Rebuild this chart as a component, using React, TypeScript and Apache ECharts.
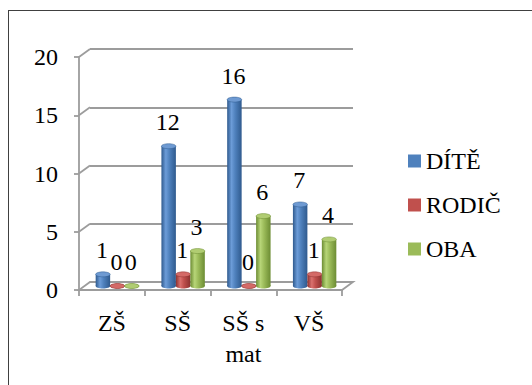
import React, { useEffect, useRef } from "react";
import * as echarts from "echarts";

const categories = ["ZŠ", "SŠ", "SŠ s mat", "VŠ"];
const seriesNames = ["DÍTĚ", "RODIČ", "OBA"];
const diteValues = [1, 12, 16, 7];
const rodicValues = [0, 1, 0, 1];
const obaValues = [0, 3, 6, 4];
const yTickValues = [0, 5, 10, 15, 20];

const GRID_COLOR = "#9c9c9c";
const DX = 11;
const DY = -8;
const G_LEFT = 79;
const G_TOP = 57;
const G_W = 263;
const G_H = 233;

const palettes = [
  { base: "#4F81BD", light: "#6C9CD8", dark: "#2F5A8E", cap: "#6E9AD2" },
  { base: "#C0504D", light: "#DA716E", dark: "#8C3230", cap: "#D46A67" },
  { base: "#9BBB59", light: "#B7D578", dark: "#6C8C33", cap: "#B0CC72" },
];

const CSS = `.chart-root svg text { font-family: "Liberation Serif", serif !important; }`;

export default function App() {
  const ref = useRef<HTMLDivElement>(null);

  useEffect(() => {
    if (!ref.current) return;
    const chart = echarts.init(ref.current, null, { renderer: "svg" });
    const valueSets = [diteValues, rodicValues, obaValues];

    const makeBarSeries = (s: number) => {
      const pal = palettes[s];
      return {
        name: seriesNames[s],
        type: "custom",
        xAxisIndex: 2,
        yAxisIndex: 2,
        z: 5,
        itemStyle: { color: pal.base },
        data: valueSets[s].map((v, i) => [i, v]),
        encode: { x: 0, y: 1 },
        renderItem: (params: any, api: any) => {
          const ci = api.value(0);
          const val = api.value(1);
          const band = api.size([1, 0])[0];
          const barW = band * 0.22;
          const groupW = barW * 3;
          const cx0 = api.coord([ci, 0])[0];
          const left = cx0 - groupW / 2 + s * barW;
          const cx = left + barW / 2;
          const yBase = api.coord([ci, 0])[1];
          const yTop = api.coord([ci, val])[1];
          const ry = 2.5;
          const grad = new echarts.graphic.LinearGradient(0, 0, 1, 0, [
            { offset: 0, color: pal.dark },
            { offset: 0.3, color: pal.light },
            { offset: 0.55, color: pal.base },
            { offset: 1, color: pal.dark },
          ]);
          return {
            type: "group",
            children: [
              {
                type: "ellipse",
                shape: { cx, cy: yBase, rx: barW / 2, ry },
                style: { fill: grad },
              },
              {
                type: "rect",
                shape: { x: left, y: yTop, width: barW, height: Math.max(0, yBase - yTop) },
                style: { fill: grad },
              },
              {
                type: "ellipse",
                shape: { cx, cy: yTop, rx: barW / 2, ry },
                style: { fill: pal.cap, stroke: pal.dark, lineWidth: 0.5 },
              },
            ],
          };
        },
      };
    };

    const makeLabelSeries = (s: number) => ({
      name: seriesNames[s],
      type: "bar",
      xAxisIndex: 2,
      yAxisIndex: 2,
      z: 6,
      barGap: "0%",
      barCategoryGap: "34%",
      silent: true,
      legendHoverLink: false,
      itemStyle: { color: "rgba(0,0,0,0)" },
      data: valueSets[s],
      label: {
        show: true,
        position: "top",
        distance: 12,
        offset: [-1, 0],
        fontSize: 24,
        fontFamily: "Liberation Serif",
        color: "#000",
      },
    });

    const frameSeries = {
      type: "custom",
      xAxisIndex: 0,
      yAxisIndex: 0,
      z: 2,
      silent: true,
      data: yTickValues.map((v) => [0, v]),
      encode: { x: 0, y: 1 },
      renderItem: (params: any, api: any) => {
        const v = api.value(1);
        const band = api.size([1, 0])[0];
        const xL = api.coord([0, v])[0] - band / 2;
        const xR = api.coord([categories.length - 1, v])[0] + band / 2;
        const y = api.coord([0, v])[1];
        if (v === 0) {
          return {
            type: "polygon",
            shape: {
              points: [
                [xL, y],
                [xR, y],
                [xR + DX, y + DY],
                [xL + DX, y + DY],
              ],
            },
            style: { fill: "#ffffff", stroke: GRID_COLOR, lineWidth: 1.8 },
          };
        }
        return {
          type: "line",
          shape: { x1: xL, y1: y, x2: xL + DX, y2: y + DY },
          style: { stroke: GRID_COLOR, lineWidth: 1.8 },
        };
      },
    };

    const gridDef = (l: number, t: number) => ({ left: l, top: t, width: G_W, height: G_H });

    const hiddenCat = (gi: number) => ({
      type: "category",
      gridIndex: gi,
      data: categories,
      show: false,
    });

    const option: any = {
      animation: false,
      textStyle: { fontFamily: "Liberation Serif" },
      grid: [
        gridDef(G_LEFT, G_TOP),
        gridDef(G_LEFT + DX, G_TOP + DY),
        gridDef(G_LEFT + DX / 2, G_TOP + DY / 2),
      ],
      legend: {
        data: seriesNames.map((n, i) => ({ name: n, itemStyle: { color: palettes[i].base } })),
        orient: "vertical",
        left: 403,
        top: 144,
        icon: "rect",
        itemWidth: 13,
        itemHeight: 13,
        itemGap: 20,
        textStyle: { fontSize: 24, fontFamily: "Liberation Serif", color: "#000" },
      },
      xAxis: [
        {
          type: "category",
          gridIndex: 0,
          data: categories,
          axisLine: { show: true, lineStyle: { color: GRID_COLOR, width: 1.8 } },
          axisTick: { show: true, length: 6, lineStyle: { color: GRID_COLOR, width: 1.8 } },
          axisLabel: {
            interval: 0,
            fontSize: 24,
            fontFamily: "Liberation Serif",
            color: "#000",
            margin: 17,
            lineHeight: 31,
            formatter: (v: string) => v.replace(" mat", "\nmat"),
          },
          splitLine: { show: false },
        },
        hiddenCat(1),
        hiddenCat(2),
      ],
      yAxis: [
        {
          type: "value",
          gridIndex: 0,
          min: 0,
          max: 20,
          interval: 5,
          axisLine: { show: true, lineStyle: { color: GRID_COLOR, width: 1.8 } },
          axisTick: { show: true, length: 5, lineStyle: { color: GRID_COLOR, width: 1.8 } },
          axisLabel: { fontSize: 24, fontFamily: "Liberation Serif", color: "#000", margin: 21 },
          splitLine: { show: false },
        },
        {
          type: "value",
          gridIndex: 1,
          min: 0,
          max: 20,
          interval: 5,
          axisLine: { show: false },
          axisTick: { show: false },
          axisLabel: { show: false },
          splitLine: { show: true, lineStyle: { color: GRID_COLOR, width: 1.8 } },
        },
        {
          type: "value",
          gridIndex: 2,
          min: 0,
          max: 20,
          interval: 5,
          show: false,
          splitLine: { show: false },
        },
      ],
      series: [
        frameSeries,
        makeBarSeries(0),
        makeBarSeries(1),
        makeBarSeries(2),
        makeLabelSeries(0),
        makeLabelSeries(1),
        makeLabelSeries(2),
      ],
    };

    chart.setOption(option);
    return () => chart.dispose();
  }, []);

  return (
    <div
      className="chart-root"
      style={{ position: "absolute", left: 0, top: 0, width: 532, height: 385, background: "#fff", overflow: "hidden" }}
    >
      <style>{CSS}</style>
      <div
        style={{
          position: "absolute",
          left: 8,
          top: 10,
          width: 600,
          height: 500,
          border: "1.5px solid #404040",
        }}
      />
      <div ref={ref} style={{ position: "absolute", left: 0, top: 0, width: 532, height: 385 }} />
    </div>
  );
}
